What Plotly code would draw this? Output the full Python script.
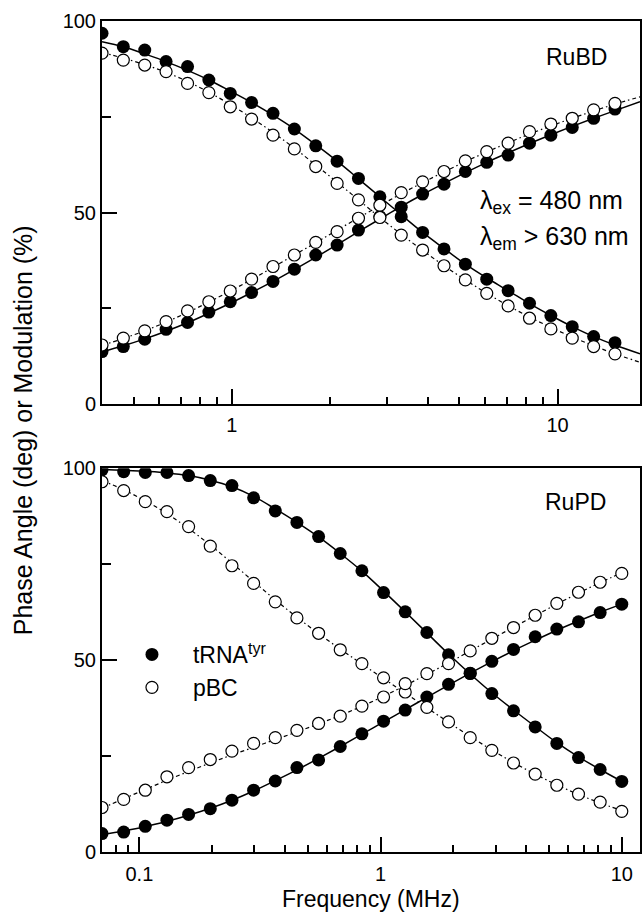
import math
import plotly.graph_objects as go

# ---------------- data ----------------
# Top panel: RuBD, frequencies in MHz
top_freq = [0.400, 0.465, 0.541, 0.629, 0.732, 0.851, 0.990, 1.151, 1.339, 1.557,
            1.811, 2.106, 2.449, 2.849, 3.313, 3.853, 4.482, 5.212, 6.062, 7.050,
            8.200, 9.536, 11.09, 12.90, 15.00]
top_trna_mod = [96.8, 93.3, 92.4, 89.4, 88.1, 84.6, 81.1, 78.7, 75.9, 71.8, 67.4, 63.4, 58.9,
                54.1, 48.9, 44.8, 40.5, 36.5, 32.6, 29.6, 26.3, 23.1, 20.2, 17.6, 16.0]
top_trna_phase = [13.7, 15.0, 16.9, 19.5, 21.3, 24.0, 26.7, 29.1, 32.0, 35.2, 38.9, 41.5, 45.4,
                  48.9, 51.4, 54.8, 57.4, 60.7, 63.1, 65.0, 68.1, 70.2, 72.2, 74.6, 77.0]
top_pbc_mod = [91.6, 89.8, 88.5, 86.8, 83.7, 81.3, 77.6, 74.4, 70.2, 66.6, 62.0, 57.6, 53.3,
               48.7, 44.1, 40.2, 36.1, 32.4, 28.9, 25.6, 22.4, 19.6, 17.2, 15.0, 13.1]
top_pbc_phase = [15.4, 17.2, 19.1, 21.5, 24.3, 26.7, 29.5, 32.6, 35.9, 38.9, 42.2, 45.0, 48.5,
                 51.9, 55.2, 58.0, 60.7, 63.5, 65.9, 68.1, 71.1, 73.1, 74.6, 76.8, 78.5]

# fitted curves (top), read at the same frequencies plus the right edge
top_fit_freq = top_freq + [17.9]
top_trna_mod_fit = [94.6, 93.3, 91.4, 89.4, 87.1, 84.6, 81.7, 78.7, 75.4, 71.8, 67.7, 63.4, 58.8,
                    54.1, 49.4, 44.8, 40.6, 36.5, 32.9, 29.6, 26.2, 23.1, 20.2, 17.6, 15.4, 13.1]
top_trna_phase_fit = [13.6, 15.2, 17.0, 19.0, 21.2, 23.7, 26.3, 29.1, 32.0, 35.1, 38.3, 41.6, 45.0,
                      48.3, 51.6, 54.7, 57.6, 60.4, 63.1, 65.6, 68.0, 70.3, 72.5, 74.6, 76.6, 78.9]
top_pbc_mod_fit = [91.8, 90.3, 88.6, 86.6, 84.2, 81.4, 78.2, 74.7, 70.9, 66.8, 62.4, 57.9, 53.3,
                   48.7, 44.3, 40.1, 36.1, 32.4, 28.9, 25.7, 22.7, 20.0, 17.5, 15.2, 13.1, 10.9]
top_pbc_phase_fit = [15.3, 17.1, 19.1, 21.4, 23.9, 26.6, 29.5, 32.5, 35.7, 38.9, 42.1, 45.4, 48.6,
                     51.8, 54.9, 57.8, 60.6, 63.3, 65.8, 68.2, 70.5, 72.6, 74.6, 76.5, 78.3, 80.2]

# Bottom panel: RuPD
bot_freq = [0.0700, 0.0861, 0.1058, 0.1301, 0.1600, 0.1968, 0.2420, 0.2976, 0.3660, 0.4500,
            0.5534, 0.6805, 0.8368, 1.0289, 1.2652, 1.5558, 1.9132, 2.3526, 2.8930, 3.5575,
            4.3746, 5.3794, 6.6151, 8.1345, 10.0]
bot_trna_mod = [99.6, 99.1, 98.9, 98.9, 98.1, 96.8, 95.5, 92.3, 88.9, 85.9, 82.2, 77.8, 73.3,
                67.6, 62.6, 57.2, 51.4, 46.5, 41.3, 36.8, 32.6, 28.3, 24.6, 21.5, 18.4]
bot_trna_phase = [4.8, 5.2, 6.7, 8.3, 9.8, 11.3, 13.5, 16.1, 18.5, 22.0, 24.0, 27.5, 30.8,
                  34.1, 37.0, 40.4, 43.7, 46.6, 49.7, 52.8, 56.1, 58.1, 60.0, 62.4, 64.6]
bot_pbc_mod = [96.5, 94.2, 91.3, 88.7, 84.8, 79.7, 74.6, 70.0, 65.2, 61.0, 57.0, 52.7, 49.1,
               45.4, 41.7, 37.7, 33.9, 29.8, 26.5, 23.2, 20.3, 17.4, 15.1, 13.0, 10.6]
bot_pbc_phase = [11.6, 13.7, 16.1, 19.6, 22.0, 24.1, 26.3, 28.3, 29.8, 31.7, 33.5, 35.4, 38.0,
                 40.4, 43.9, 46.5, 49.1, 52.4, 55.7, 58.5, 61.7, 64.8, 67.7, 70.3, 72.6]

bot_trna_mod_fit = [99.7, 99.5, 99.2, 98.8, 98.1, 96.9, 95.2, 92.7, 89.4, 85.9, 82.1, 77.8, 73.2,
                    68.0, 62.6, 57.1, 51.6, 46.4, 41.5, 37.0, 32.7, 28.5, 24.8, 21.5, 18.4]
bot_trna_phase_fit = [4.6, 5.5, 6.6, 8.0, 9.6, 11.4, 13.5, 15.9, 18.6, 21.4, 24.4, 27.5, 30.7,
                      33.9, 37.1, 40.3, 43.5, 46.6, 49.6, 52.5, 55.2, 57.8, 60.2, 62.5, 64.6]
bot_pbc_mod_fit = [96.8, 94.4, 91.5, 88.2, 84.3, 80.0, 75.3, 70.5, 65.7, 61.2, 56.9, 52.9, 49.0,
                   45.2, 41.4, 37.6, 33.8, 30.1, 26.6, 23.3, 20.3, 17.5, 15.0, 12.8, 10.8]
bot_pbc_phase_fit = [11.4, 13.9, 16.3, 18.7, 21.0, 23.2, 25.3, 27.3, 29.3, 31.3, 33.4, 35.6, 38.0,
                     40.6, 43.4, 46.3, 49.3, 52.4, 55.5, 58.6, 61.6, 64.6, 67.5, 70.2, 72.8]

top_xrange = [0.4, 17.9]
bot_xrange = [0.07, 11.9]
top_major = [1, 10]
top_minor = [0.5, 0.6, 0.7, 0.8, 0.9, 2, 3, 4, 5, 6, 7, 8, 9]
bot_major = [0.1, 1, 10]
bot_minor = [0.08, 0.09, 0.2, 0.3, 0.4, 0.5, 0.6, 0.7, 0.8, 0.9, 2, 3, 4, 5, 6, 7, 8, 9]
y_major = [0, 50, 100]
y_minor = [25, 75]

# ---------------- figure ----------------
FONT = "Liberation Sans, Arial, Helvetica, sans-serif"
W, H = 643, 919
ML, MR, MT, MB = 102, 1, 21, 67
PW, PH = W - ML - MR, H - MT - MB


def px_x(p):
    return (p - ML) / PW


def px_y(p):
    return (H - MB - p) / PH


fig = go.Figure()

solid = dict(color="black", width=1.5)
dashdot = dict(color="black", width=1.2, dash="4px,3px,1.5px,3px")
filled = dict(symbol="circle", size=13, color="black", line=dict(width=0))
hollow = dict(symbol="circle", size=12, color="white", line=dict(width=1.2, color="black"))


def add_panel(xa, ya, fx, lines_solid, lines_dash, freq, open_sets, fill_sets, legend):
    for yy in lines_dash:
        fig.add_trace(go.Scatter(x=fx, y=yy, mode="lines", line=dashdot, line_shape="spline",
                                 xaxis=xa, yaxis=ya, showlegend=False, hoverinfo="skip"))
    for yy in lines_solid:
        fig.add_trace(go.Scatter(x=fx, y=yy, mode="lines", line=solid, line_shape="spline",
                                 xaxis=xa, yaxis=ya, showlegend=False, hoverinfo="skip"))
    for k, yy in enumerate(fill_sets):
        fig.add_trace(go.Scatter(x=freq, y=yy, mode="markers", marker=filled, xaxis=xa, yaxis=ya,
                                 name="tRNA<sup>tyr</sup>", legendrank=1,
                                 showlegend=(legend and k == 0)))
    for k, yy in enumerate(open_sets):
        fig.add_trace(go.Scatter(x=freq, y=yy, mode="markers", marker=hollow, xaxis=xa, yaxis=ya,
                                 name="pBC", legendrank=2,
                                 showlegend=(legend and k == 0)))


add_panel("x", "y", top_fit_freq,
          [top_trna_mod_fit, top_trna_phase_fit], [top_pbc_mod_fit, top_pbc_phase_fit],
          top_freq, [top_pbc_mod, top_pbc_phase], [top_trna_mod, top_trna_phase], False)
add_panel("x2", "y2", bot_freq,
          [bot_trna_mod_fit, bot_trna_phase_fit], [bot_pbc_mod_fit, bot_pbc_phase_fit],
          bot_freq, [bot_pbc_mod, bot_pbc_phase], [bot_trna_mod, bot_trna_phase], True)

axis_common = dict(showline=True, linewidth=2, linecolor="black", mirror=True,
                   ticks="inside", ticklen=15, tickwidth=1.6, tickcolor="black",
                   showgrid=False, zeroline=False,
                   tickfont=dict(family=FONT, size=20, color="black"))


def xaxis(rng, major, minor, anchor, standoff):
    return dict(axis_common, type="log", range=[math.log10(rng[0]), math.log10(rng[1])],
                tickvals=major, ticktext=[("%g" % v) for v in major], anchor=anchor,
                ticklabelstandoff=standoff,
                minor=dict(ticks="inside", ticklen=7, tickwidth=1.6, tickcolor="black",
                           tickvals=minor, showgrid=False))


def yaxis(domain, anchor):
    return dict(axis_common, range=[0, 100], tickvals=y_major, ticktext=[str(v) for v in y_major],
                domain=domain, anchor=anchor,
                minor=dict(ticks="inside", ticklen=9, tickwidth=1.6, tickcolor="black",
                           tickvals=y_minor, showgrid=False))


fig.update_layout(
    width=W, height=H,
    margin=dict(l=ML, r=MR, t=MT, b=MB, pad=0),
    paper_bgcolor="white", plot_bgcolor="white",
    font=dict(family=FONT, size=20, color="black"),
    xaxis=xaxis(top_xrange, top_major, top_minor, "y", 2),
    yaxis=yaxis([px_y(404), 1.0], "x"),
    xaxis2=xaxis(bot_xrange, bot_major, bot_minor, "y2", 3),
    yaxis2=yaxis([0.0, px_y(468.3)], "x2"),
    showlegend=True,
    legend=dict(x=px_x(111), y=px_y(633), xanchor="left", yanchor="top",
                bgcolor="rgba(0,0,0,0)", borderwidth=0, itemwidth=72,
                font=dict(family=FONT, size=23, color="black"), tracegroupgap=0,
                itemsizing="trace"),
)

ann = dict(xref="paper", yref="paper", showarrow=False,
           font=dict(family=FONT, size=23, color="black"))
fig.add_annotation(ann, text="RuBD", x=px_x(546), y=px_y(57), xanchor="left", yanchor="middle")
fig.add_annotation(ann, text="RuPD", x=px_x(545), y=px_y(502), xanchor="left", yanchor="middle")
fig.add_annotation(ann, text="λ<sub>ex</sub> = 480 nm", x=px_x(479), y=px_y(202),
                   xanchor="left", yanchor="middle", font=dict(family=FONT, size=25, color="black"))
fig.add_annotation(ann, text="λ<sub>em</sub> > 630 nm", x=px_x(479), y=px_y(238),
                   xanchor="left", yanchor="middle", font=dict(family=FONT, size=25, color="black"))
fig.add_annotation(ann, text="Frequency (MHz)", x=px_x(372), y=px_y(899),
                   xanchor="center", yanchor="middle")
fig.add_annotation(ann, text="Phase Angle (deg) or Modulation (%)", x=px_x(23), y=px_y(430),
                   xanchor="center", yanchor="middle", textangle=-90,
                   font=dict(family=FONT, size=25, color="black"))

fig.write_html("out.html")
